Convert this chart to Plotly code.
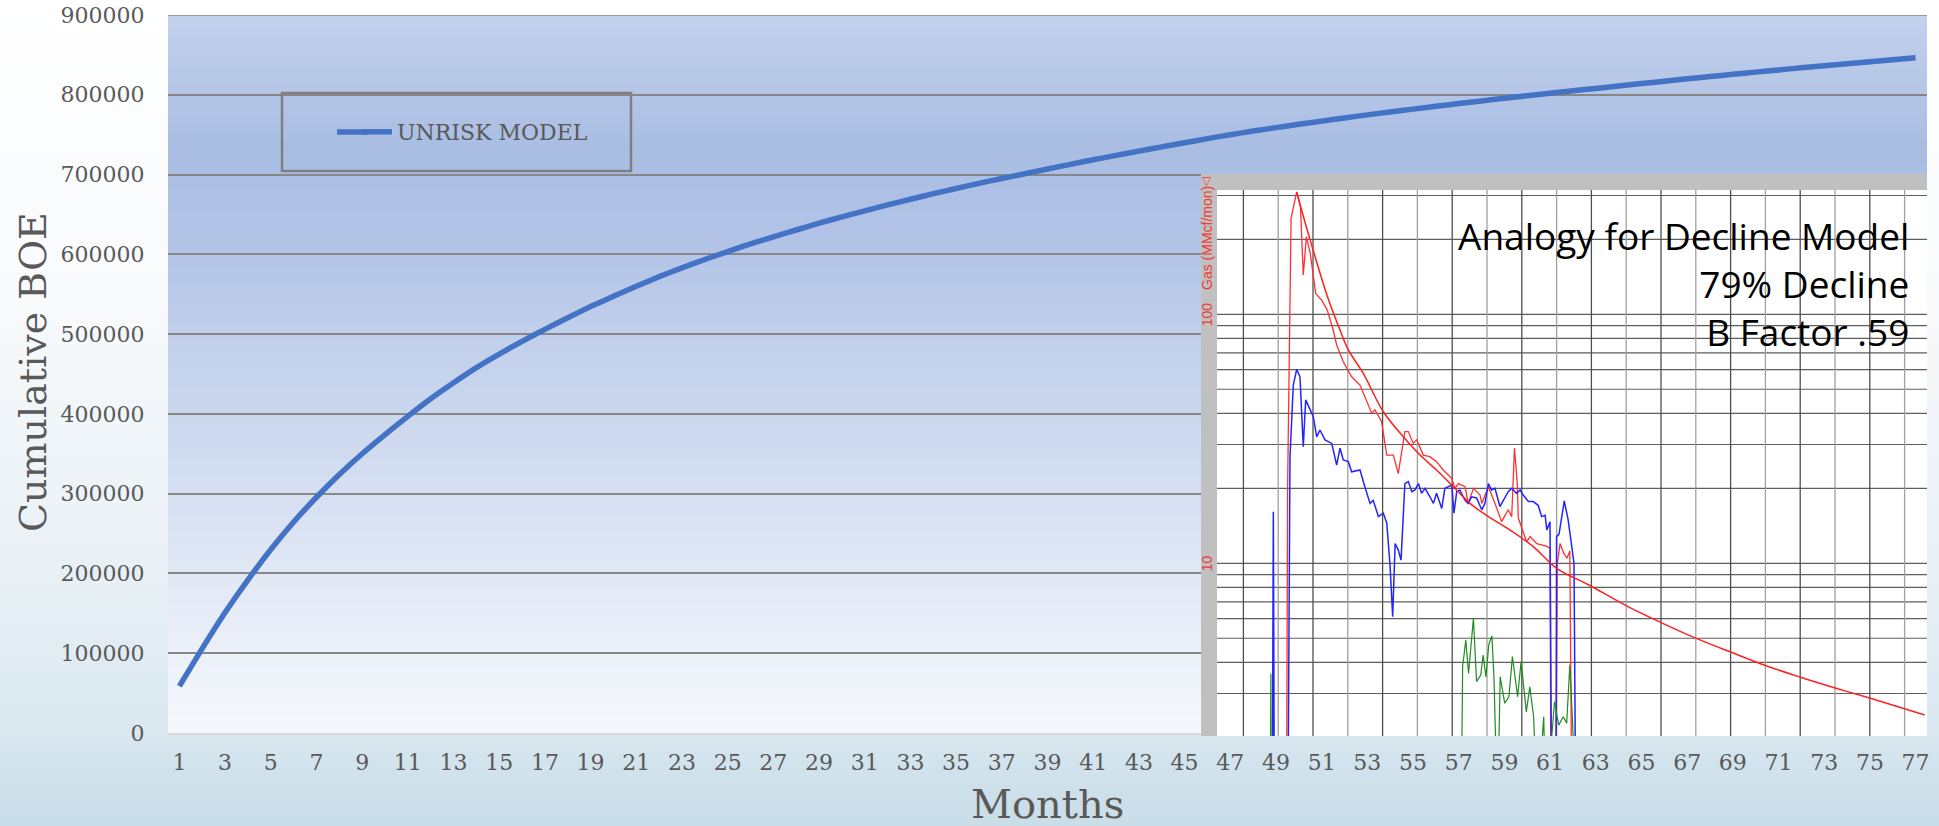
import math
import plotly.graph_objects as go

# ---------------- data: main chart ----------------
months = list(range(1, 78))
cum_boe = [58700, 106000, 151000, 192000, 230000, 264500, 295500, 324000, 350000, 374000,
           397000, 419000, 439000, 458000, 475000, 491000, 506000, 520500, 534500, 547500,
           560000, 572000, 583000, 593500, 603500, 613000, 622000, 630500, 639000, 647000,
           654500, 662000, 669000, 676000, 682500, 689000, 695000, 701000, 707000, 712800,
           718500, 724000, 729400, 734700, 739900, 745000, 750000, 754500, 758800, 763000,
           767000, 771000, 774800, 778500, 782000, 785500, 789000, 792300, 795600, 798800,
           802000, 805000, 808000, 811000, 814000, 817000, 820000, 822800, 825600, 828400,
           831100, 833800, 836400, 839000, 841500, 844000, 846500]
x_tick_labels = [str(m) for m in months[::2]]
y_tick_values = [0, 100000, 200000, 300000, 400000, 500000, 600000, 700000, 800000, 900000]
series_name = "UNRISK MODEL"

# ---------------- data: inset (analogy well, log scale) ----------------
inset_gas_t = [1.24, 1.27, 1.37, 1.53, 1.64, 1.72, 1.81, 1.92, 2.08, 2.25, 2.41, 2.58, 2.68, 2.87,
               3.11, 3.35, 3.49, 3.69, 3.78, 3.97, 4.12, 4.31, 4.45, 4.64, 4.74, 4.88, 4.98, 5.17,
               5.36, 5.55, 5.74, 5.99, 6.08, 6.18, 6.37, 6.46, 6.61, 6.80, 6.85, 7.04, 7.23, 7.42,
               7.61, 7.71, 7.79, 7.87, 7.90, 8.14, 8.24, 8.43, 8.72, 8.81, 8.84, 8.98, 9.02, 9.10,
               9.20, 9.30, 9.38, 9.44]
inset_gas = [1.0, 20.3, 243, 310, 270, 144, 205, 176, 121, 114, 104, 86.5, 75.3, 64.5,
             56.1, 52.0, 46.7, 40.0, 41.3, 37.1, 27.2, 27.2, 22.9, 33.8, 33.8, 30.3, 31.3, 27.2,
             26.8, 25.6, 23.7, 21.9, 20.0, 20.9, 20.3, 17.4, 20.0, 18.8, 17.4, 20.3, 17.4, 14.7,
             16.4, 15.4, 29.0, 20.9, 15.2, 12.2, 12.8, 12.0, 11.7, 11.5, 1.0, 1.0, 10.0, 12.0,
             11.0, 10.5, 11.2, 1.0]

inset_oil_t = [0.83, 0.85, 0.86, 0.875, 0.89, 1.28, 1.32, 1.339, 1.434, 1.531, 1.626, 1.72, 1.79,
               1.914, 2.009, 2.106, 2.20, 2.345, 2.54, 2.68, 2.776, 2.87, 3.015, 3.11, 3.35, 3.49,
               3.64, 3.73, 3.88, 4.02, 4.12, 4.21, 4.29, 4.36, 4.45, 4.53, 4.64, 4.74, 4.84, 4.93,
               5.03, 5.12, 5.22, 5.36, 5.46, 5.55, 5.70, 5.79, 5.89, 5.99, 6.05, 6.13, 6.22, 6.37,
               6.46, 6.56, 6.70, 6.85, 6.94, 7.04, 7.13, 7.23, 7.37, 7.52, 7.61, 7.71, 7.85, 7.95,
               8.04, 8.19, 8.33, 8.47, 8.57, 8.67, 8.72, 8.81, 8.86, 8.98, 9.00, 9.07, 9.22, 9.33,
               9.42, 9.50, 9.55]
inset_oil = [1.0, 5.0, 16.1, 4.0, 1.0, 1.0, 10.0, 26.8, 52.0, 60.1, 56.1, 29.4, 45.3,
             41.3, 38.8, 32.2, 34.3, 31.3, 30.3, 24.8, 29.0, 26.0, 25.6, 23.3, 23.7, 20.3,
             17.4, 17.9, 15.4, 15.9, 14.5, 10.0, 6.1, 12.0, 11.3, 10.3, 20.9, 21.3, 19.4, 19.7,
             20.9, 19.1, 20.0, 18.5, 17.4, 19.1, 16.6, 20.0, 20.3, 20.6, 15.9, 19.4, 19.7, 17.9,
             17.4, 18.5, 18.3, 16.4, 17.4, 20.9, 19.7, 20.0, 16.9, 18.5, 19.4, 20.0, 19.1, 19.7,
             18.8, 17.7, 17.7, 17.1, 15.4, 15.6, 13.6, 14.7, 1.0, 1.0, 12.8, 13.1, 17.8, 15.0,
             12.0, 10.0, 1.0]

inset_water_t = [0.77, 0.79, 0.80, 6.26, 6.30, 6.39, 6.47, 6.61, 6.70, 6.82, 6.89, 6.97, 7.05,
                 7.14, 7.20, 7.30, 7.38, 7.51, 7.63, 7.73, 7.88, 7.98, 8.13, 8.23, 8.34, 8.44,
                 8.63, 8.69, 8.94, 9.06, 9.19, 9.29, 9.38, 9.46, 9.56]
inset_water = [1.0, 3.6, 1.0, 1.0, 3.84, 4.92, 3.61, 6.02, 3.35, 3.56, 4.28, 3.50, 4.71,
               5.11, 3.50, 1.0, 3.50, 2.74, 2.91, 4.22, 2.91, 4.03, 2.53, 3.19, 2.42, 1.0,
               2.42, 1.0, 2.78, 2.24, 2.42, 2.28, 3.91, 2.28, 1.0]

inset_fit_t = [1.534, 1.70, 1.974, 2.414, 2.776, 3.015, 3.445, 4.02, 4.595, 5.075, 5.55, 6.03,
               6.51, 7.04, 7.66, 8.33, 9.0, 9.93, 11.05, 12.05, 13.05, 14.04, 15.04, 16.03,
               17.03, 18.02, 19.58]
inset_fit = [310, 254, 187, 118, 86.5, 71.9, 57.9, 40.6, 32.2, 27.2, 23.7, 20.3,
             17.4, 15.4, 13.6, 11.66, 9.55, 8.18, 6.70, 5.74, 4.97, 4.38, 3.87, 3.48,
             3.15, 2.87, 2.46]

inset_hgrid = [3, 4, 5, 6, 7, 8, 9, 10, 20, 30, 40, 50, 60, 70, 80, 90, 100, 200, 300]
inset_vgrid = list(range(0, 20))
inset_axis_labels = ["100", "10"]
inset_axis_label_values = [100, 10]
inset_title_lines = ["Analogy for Decline Model", "79% Decline", "B Factor .59"]

# ---------------- layout geometry ----------------
W, H = 1939, 826
L, R, T, B = 168, 12, 15, 90
PW, PH = W - L - R, H - T - B
BASE = H - B


def xp(px):
    return (px - L) / PW


def yp(py):
    return (BASE - py) / PH


def hex2rgb(h):
    h = h.lstrip('#')
    return tuple(int(h[i:i + 2], 16) for i in (0, 2, 4))


def interp(stops, y):
    for (y0, c0), (y1, c1) in zip(stops[:-1], stops[1:]):
        if y0 <= y <= y1:
            f = (y - y0) / (y1 - y0) if y1 > y0 else 0
            a, b = hex2rgb(c0), hex2rgb(c1)
            return 'rgb(%d,%d,%d)' % tuple(round(a[i] + (b[i] - a[i]) * f) for i in range(3))
    return stops[-1][1] if y > stops[-1][0] else stops[0][1]


shapes = []
# page background gradient
page_stops = [(0, '#ffffff'), (300, '#f8fafc'), (550, '#eaf1f6'), (733, '#dae8f0'),
              (760, '#d2e3ec'), (826, '#c9dde8')]
step = 8
for py in range(0, H, step):
    shapes.append(dict(type='rect', xref='paper', yref='paper', layer='below',
                       x0=xp(0), x1=xp(W), y0=yp(min(py + step + 1, H)), y1=yp(py),
                       fillcolor=interp(page_stops, py + step / 2), line=dict(width=0)))
# plot area gradient
plot_stops = [(15, '#c3d1ec'), (150, '#a9bde3'), (250, '#b3c4e7'), (333, '#c1cfeb'),
              (413, '#cbd7ee'), (493, '#d6dff2'), (573, '#e1e8f5'), (653, '#ebf0f9'),
              (733, '#f6f8fc')]
step = 6
py = 15
while py < 733:
    top, bot = py, min(py + step, 733)
    shapes.append(dict(type='rect', xref='paper', yref='paper', layer='below',
                       x0=0, x1=1, y0=yp(min(bot + 1, 733)), y1=yp(top),
                       fillcolor=interp(plot_stops, (top + bot) / 2), line=dict(width=0)))
    py += step
# top border line of plot (900000 gridline)
shapes.append(dict(type='line', xref='paper', yref='y', layer='below', x0=0, x1=1,
                   y0=900000, y1=900000, line=dict(color='#878787', width=1.6)))

# inset frame (gray), white plot area, grid
g_right = 19.7
g_left_white = (1217 - 1243.4) / 34.8
v_top_white = 315.6
shapes.append(dict(type='rect', xref='x2', yref='y2', layer='below', x0=-1.4, x1=19.8,
                   y0=1.8, y1=400, fillcolor='#c0c0c0', line=dict(width=0)))
shapes.append(dict(type='rect', xref='x2', yref='y2', layer='below', x0=g_left_white, x1=g_right,
                   y0=1.8, y1=v_top_white, fillcolor='#ffffff', line=dict(width=0)))
for v in inset_hgrid:
    shapes.append(dict(type='line', xref='x2', yref='y2', layer='below', x0=g_left_white,
                       x1=g_right, y0=v, y1=v, line=dict(color='#5e5e5e', width=1.2)))
for g in inset_vgrid:
    shapes.append(dict(type='line', xref='x2', yref='y2', layer='below', x0=g, x1=g,
                       y0=1.8, y1=v_top_white,
                       line=dict(color='#4f4f4f' if g % 2 == 0 else '#a0a0a0', width=1.3)))
# legend border and longer legend key line
shapes.append(dict(type='rect', xref='paper', yref='paper', layer='above',
                   x0=xp(282), x1=xp(631), y0=yp(171), y1=yp(93),
                   line=dict(color='#7f7f7f', width=2.5), fillcolor='rgba(0,0,0,0)'))
shapes.append(dict(type='line', xref='paper', yref='paper', layer='above',
                   x0=xp(337), x1=xp(368), y0=yp(132), y1=yp(132),
                   line=dict(color='#4472c4', width=5.5)))

fig = go.Figure()
fig.add_trace(go.Scatter(x=[str(m) for m in months], y=cum_boe, mode='lines', name=series_name,
                         line=dict(color='#4472c4', width=5.5, shape='spline', smoothing=0.5),
                         xaxis='x', yaxis='y'))
fig.add_trace(go.Scatter(x=inset_gas_t, y=inset_gas, mode='lines', name='Gas', showlegend=False,
                         line=dict(color='#ff3030', width=1.3), xaxis='x2', yaxis='y2'))
fig.add_trace(go.Scatter(x=inset_oil_t, y=inset_oil, mode='lines', name='Oil', showlegend=False,
                         line=dict(color='#2424ff', width=1.5), xaxis='x2', yaxis='y2'))
fig.add_trace(go.Scatter(x=inset_water_t, y=inset_water, mode='lines', name='Water',
                         showlegend=False, line=dict(color='#1e8c1e', width=1.2),
                         xaxis='x2', yaxis='y2'))
fig.add_trace(go.Scatter(x=inset_fit_t, y=inset_fit, mode='lines', name='Decline fit',
                         showlegend=False, line=dict(color='#ff2020', width=1.5, shape='spline'),
                         xaxis='x2', yaxis='y2'))

annotations = [
    dict(text='Cumulative BOE', xref='paper', yref='paper', x=xp(33), y=yp(372),
         textangle=-90, showarrow=False, xanchor='center', yanchor='middle',
         font=dict(family='DejaVu Serif', size=38, color='#595959')),
    dict(text='Months', xref='paper', yref='paper', x=xp(1047), y=yp(804),
         showarrow=False, xanchor='center', yanchor='middle',
         font=dict(family='DejaVu Serif', size=40, color='#595959')),
    dict(text='<br>'.join(inset_title_lines), xref='paper', yref='paper', x=xp(1911), y=yp(284),
         showarrow=False, xanchor='right', yanchor='middle', align='right',
         font=dict(family='Open Sans', size=37, color='#000000')),
    dict(text='Gas (MMcf/mon)', xref='paper', yref='paper', x=xp(1207), y=yp(238),
         textangle=-90, showarrow=False, xanchor='center', yanchor='middle',
         font=dict(family='Liberation Sans', size=14, color='#ee3a3a')),
    dict(text='▽', xref='paper', yref='paper', x=xp(1207), y=yp(181),
         showarrow=False, xanchor='center', yanchor='middle',
         font=dict(family='DejaVu Sans', size=12, color='#ee3a3a')),
]
for lab, val in zip(inset_axis_labels, inset_axis_label_values):
    annotations.append(dict(text=lab, xref='paper', yref='y2', x=xp(1207), y=math.log10(val),
                            textangle=-90, showarrow=False, xanchor='center', yanchor='middle',
                            font=dict(family='Liberation Sans', size=14, color='#ee3a3a')))

fig.update_layout(
    width=W, height=H,
    margin=dict(l=L, r=R, t=T, b=B, autoexpand=False),
    paper_bgcolor='#ffffff', plot_bgcolor='rgba(0,0,0,0)',
    showlegend=True,
    legend=dict(x=xp(357), y=yp(132), xanchor='left', yanchor='middle',
                bgcolor='rgba(0,0,0,0)', borderwidth=0,
                font=dict(family='DejaVu Serif', size=22, color='#595959')),
    xaxis=dict(type='category', domain=[0, 1], anchor='y', range=[-0.5, len(months) - 0.5],
               showgrid=False, zeroline=False,
               tickmode='array', tickvals=x_tick_labels, ticktext=x_tick_labels,
               ticks='outside', ticklen=9, tickcolor='rgba(0,0,0,0)',
               showline=True, linecolor='#d9d9d9', linewidth=2,
               tickfont=dict(family='DejaVu Serif', size=22, color='#595959')),
    yaxis=dict(domain=[yp(733), 1], anchor='x', range=[0, 900000], tickvals=y_tick_values,
               tickformat='d', showgrid=True, gridcolor='#878787', gridwidth=1.6,
               zeroline=False, showline=False, ticks='outside', ticklen=18,
               tickcolor='rgba(0,0,0,0)',
               tickfont=dict(family='DejaVu Serif', size=22, color='#595959')),
    xaxis2=dict(domain=[xp(1201), 1.0], anchor='y2',
                range=[(1201 - 1243.4) / 34.8, (1927 - 1243.4) / 34.8],
                visible=False, showgrid=False, zeroline=False),
    yaxis2=dict(domain=[0, yp(174)], anchor='x2', type='log', range=[0.30643, 2.56345],
                visible=False, showgrid=False, zeroline=False),
    shapes=shapes,
    annotations=annotations,
)

fig.write_html("out.html", config={'displayModeBar': False},
               post_script="document.body.style.margin='0';document.body.style.padding='0';"
                           "document.body.style.overflow='hidden';")
